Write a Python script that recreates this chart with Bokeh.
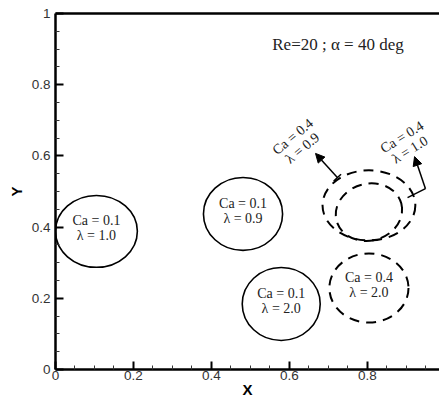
import numpy as np
from bokeh.plotting import figure
from bokeh.models import (Range1d, LinearAxis, FixedTicker, ColumnDataSource,
                          Arrow, NormalHead, TeeHead)
from bokeh.core.properties import value
from bokeh.embed import file_html
from bokeh.resources import INLINE

# ---------------- data ----------------
drop_ca = [0.1, 0.1, 0.1, 0.4, 0.4, 0.4]
drop_lambda = [1.0, 0.9, 2.0, 2.0, 0.9, 1.0]
drop_x = [0.105, 0.481, 0.579, 0.804, 0.804, 0.804]
drop_y = [0.388, 0.437, 0.184, 0.229, 0.461, 0.442]
drop_w = [0.210, 0.203, 0.200, 0.203, 0.238, 0.172]
drop_h = [0.202, 0.205, 0.205, 0.194, 0.197, 0.160]
drop_angle = [0, 0, 0, 0, 0, 15]          # degrees

x_ticks = [0, 0.2, 0.4, 0.6, 0.8]
x_tick_labels = ["0", "0.2", "0.4", "0.6", "0.8"]
y_ticks = [0, 0.2, 0.4, 0.6, 0.8, 1]
y_tick_labels = ["0", "0.2", "0.4", "0.6", "0.8", "1"]
minor_ticks = [0.05, 0.1, 0.15, 0.25, 0.3, 0.35, 0.45, 0.5, 0.55,
               0.65, 0.7, 0.75, 0.85, 0.9, 0.95]

# callout labels for the two overlapping Ca=0.4 drops (index 4 and 5)
callout_idx = [4, 5]
callout_x = [0.621, 0.899]
callout_y = [0.638, 0.635]
callout_angle = [40, 32]                  # degrees

# arrow for lambda=0.9 callout (tee at drop edge -> head near label)
arrow09_start = (0.723, 0.539)
arrow09_end = (0.667, 0.607)
# bent arrow for lambda=1.0 callout
arrow10_path_x = [0.903, 0.949]
arrow10_path_y = [0.483, 0.508]
arrow10_end = (0.921, 0.598)

title_text = "Re=20 ; \u03b1 = 40 deg"
title_pos = (0.556, 0.913)

# ---------------- figure ----------------
p = figure(width=439, height=400,
           x_range=Range1d(0, 0.985), y_range=Range1d(0, 1),
           output_backend="svg", toolbar_location=None,
           min_border_left=55, min_border_right=0,
           min_border_top=13, min_border_bottom=31,
           x_axis_label="X", y_axis_label="Y")
p.background_fill_color = "white"
p.border_fill_color = "white"
p.outline_line_color = None
p.xgrid.visible = False
p.ygrid.visible = False

for ax, ticks, labels in ((p.xaxis[0], x_ticks, x_tick_labels),
                          (p.yaxis[0], y_ticks, y_tick_labels)):
    ax.ticker = FixedTicker(ticks=ticks, minor_ticks=minor_ticks)
    ax.major_label_overrides = {t: l for t, l in zip(ticks, labels)}
    ax.axis_line_width = 2.5
    ax.axis_line_color = "black"
    ax.major_tick_in = 8
    ax.major_tick_out = 0
    ax.minor_tick_in = 4
    ax.minor_tick_out = 0
    ax.major_tick_line_width = 2
    ax.minor_tick_line_width = 1
    ax.major_tick_line_color = "black"
    ax.minor_tick_line_color = "#333333"
    ax.major_label_text_font = "Liberation Sans"
    ax.major_label_text_font_size = "13.5px"
    ax.major_label_text_color = "#333333"
    ax.axis_label_text_font = "Liberation Sans"
    ax.axis_label_text_font_style = "bold"
    ax.axis_label_text_font_size = "15px"
    ax.axis_label_text_color = "black"

p.xaxis.major_label_standoff = 1
p.xaxis.axis_label_standoff = -2
p.yaxis.major_label_standoff = 5
p.yaxis.axis_label_standoff = 4

# top border as a bare axis line
top = LinearAxis(ticker=FixedTicker(ticks=[]), axis_line_width=2.5,
                 axis_line_color="black", major_tick_in=0, major_tick_out=0,
                 minor_tick_in=0, minor_tick_out=0, major_label_standoff=0)
p.add_layout(top, "above")

# ---------------- drops ----------------
src = ColumnDataSource(dict(x=drop_x, y=drop_y, w=drop_w, h=drop_h,
                            a=drop_angle, ca=drop_ca, lam=drop_lambda))
solid = [i for i, c in enumerate(drop_ca) if c < 0.2]
dashed = [i for i, c in enumerate(drop_ca) if c >= 0.2]

def sub(idx):
    return ColumnDataSource({k: [v[i] for i in idx] for k, v in src.data.items()})

p.ellipse(x="x", y="y", width="w", height="h", angle="a", angle_units="deg",
          source=sub(solid), fill_color=None, line_color="black", line_width=1.6)
p.ellipse(x="x", y="y", width="w", height="h", angle="a", angle_units="deg",
          source=sub(dashed), fill_color=None, line_color="black", line_width=2,
          line_dash="10 7")

inner = [0, 1, 2, 3]
inner_src = ColumnDataSource(dict(
    x=[drop_x[i] for i in inner], y=[drop_y[i] for i in inner],
    text=[f"Ca = {drop_ca[i]}\n\u03bb = {drop_lambda[i]}" for i in inner]))
p.text(x="x", y="y", text="text", source=inner_src, y_offset=-3,
       text_font=value("Liberation Serif"), text_font_size="14px",
       text_align="center", text_baseline="middle", text_line_height=1.0,
       text_color="#222222")

call_src = ColumnDataSource(dict(
    x=callout_x, y=callout_y, a=callout_angle,
    text=[f"Ca = {drop_ca[i]}\n\u03bb = {drop_lambda[i]}" for i in callout_idx]))
p.text(x="x", y="y", text="text", angle="a", angle_units="deg", source=call_src,
       text_font=value("Liberation Serif"), text_font_size="14px",
       text_align="center", text_baseline="middle", text_line_height=1.0,
       text_color="#222222")

# arrows
p.add_layout(Arrow(start=TeeHead(size=10, line_width=1.5),
                   end=NormalHead(size=9, fill_color="black", line_color="black"),
                   x_start=arrow09_start[0], y_start=arrow09_start[1],
                   x_end=arrow09_end[0], y_end=arrow09_end[1], line_width=1.5))
p.line(arrow10_path_x, arrow10_path_y, line_color="black", line_width=1.5)
p.add_layout(Arrow(end=NormalHead(size=9, fill_color="black", line_color="black"),
                   x_start=arrow10_path_x[-1], y_start=arrow10_path_y[-1],
                   x_end=arrow10_end[0], y_end=arrow10_end[1], line_width=1.5))

p.text(x=[title_pos[0]], y=[title_pos[1]], text=[title_text],
       text_font=value("Liberation Serif"), text_font_size="17px",
       text_align="left", text_baseline="middle", text_color="#222222")

open("out.html", "w").write(file_html(p, INLINE))
